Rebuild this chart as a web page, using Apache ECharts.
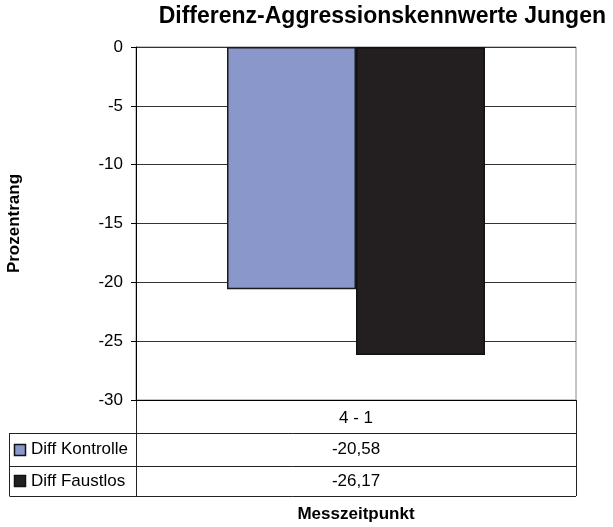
<!DOCTYPE html>
<html>
<head>
<meta charset="utf-8">
<script src="https://cdn.jsdelivr.net/npm/echarts@6/dist/echarts.min.js"></script>
<style>
html,body{margin:0;padding:0;background:#fff;}
#chart{width:613px;height:527px;}
</style>
</head>
<body>
<div id="chart"></div>
<script>
const categories = ['4 - 1'];
const seriesNames = ['Diff Kontrolle', 'Diff Faustlos'];
const kontrolle = [-20.58];
const faustlos = [-26.17];
const seriesColors = ['#8A97CB', '#231F20'];
const yTicks = [0, -5, -10, -15, -20, -25, -30];

const FONT = 'Liberation Sans, Arial, sans-serif';
const chart = echarts.init(document.getElementById('chart'), null, {renderer: 'canvas'});

const gridLeft = 136, gridRight = 37, gridTop = 47, gridBottom = 127;

const option = {
  animation: false,
  backgroundColor: '#fff',
  textStyle: {fontFamily: FONT},
  title: {
    text: 'Differenz-Aggressionskennwerte Jungen',
    right: 2, top: 0,
    textStyle: {fontFamily: FONT, fontSize: 23, fontWeight: 'bold', color: '#000'}
  },
  grid: {left: gridLeft, right: gridRight, top: gridTop, bottom: gridBottom,
         containLabel: false, outerBoundsMode: 'none',
         show: true, borderColor: '#888', borderWidth: 1, backgroundColor: 'transparent'},
  xAxis: {
    type: 'category', data: categories, position: 'bottom',
    axisLine: {onZero: false, lineStyle: {color: '#000', width: 1}},
    axisTick: {show: false},
    axisLabel: {color: '#000', fontSize: 17, fontFamily: FONT, margin: 10},
    name: 'Messzeitpunkt', nameLocation: 'middle', nameGap: 106,
    nameTextStyle: {fontFamily: FONT, fontSize: 17, fontWeight: 'bold', color: '#000'}
  },
  yAxis: {
    type: 'value', min: -30, max: 0, interval: 5,
    axisLine: {show: true, lineStyle: {color: '#000', width: 1}},
    axisTick: {show: true, length: 5, lineStyle: {color: '#000'}},
    axisLabel: {color: '#000', fontSize: 17, fontFamily: FONT, margin: 13,
      formatter: v => yTicks.indexOf(v) >= 0 ? String(v) : ''},
    splitLine: {show: true, lineStyle: {color: '#333', width: 1}},
    name: 'Prozentrang', nameLocation: 'middle', nameGap: 113,
    nameTextStyle: {fontFamily: FONT, fontSize: 17, fontWeight: 'bold', color: '#000'}
  },
  series: [
    {name: seriesNames[0], type: 'bar', data: kontrolle, barWidth: 129, barGap: '0%',
     itemStyle: {color: seriesColors[0], borderColor: '#1a1a1a', borderWidth: 1.5}},
    {name: seriesNames[1], type: 'bar', data: faustlos, barWidth: 129, barGap: '0%',
     itemStyle: {color: seriesColors[1], borderColor: '#111', borderWidth: 1.5}}
  ]
};
chart.setOption(option);

// Data table below the chart
const W = 613, H = 527;
const xL = gridLeft, xR = W - gridRight, yAx = H - gridBottom;
const tableLeft = 9.5;
const rows = [yAx + 33, yAx + 66, yAx + 96];
const lineStyle = {stroke: '#222', lineWidth: 1};
const els = [];
function hline(x1, x2, y) { els.push({type: 'line', shape: {x1, y1: y, x2, y2: y}, style: lineStyle, silent: true}); }
function vline(x, y1, y2) { els.push({type: 'line', shape: {x1: x, y1, x2: x, y2}, style: lineStyle, silent: true}); }
rows.forEach(y => hline(tableLeft, xR, Math.round(y) + 0.5));
vline(tableLeft, rows[0], rows[2]);
vline(xL + 0.5, yAx, rows[2]);
vline(xR + 0.5, yAx, rows[2]);
const cx = chart.convertToPixel({xAxisIndex: 0}, categories[0]);
const seriesData = [kontrolle, faustlos];
seriesNames.forEach((nm, i) => {
  const yc = (rows[i] + rows[i + 1]) / 2;
  els.push({type: 'rect', shape: {x: 14.5, y: Math.round(yc - 6) + 0.5, width: 11, height: 11},
    style: {fill: seriesColors[i], stroke: '#111', lineWidth: 1.5}, silent: true});
  els.push({type: 'text', x: 31, y: yc, style: {text: nm, font: '17px ' + FONT, fill: '#000',
    textVerticalAlign: 'middle', verticalAlign: 'middle'}, silent: true});
  els.push({type: 'text', x: cx, y: yc, style: {text: seriesData[i][0].toFixed(2).replace('.', ','),
    font: '17px ' + FONT, fill: '#000', align: 'center', textAlign: 'center', verticalAlign: 'middle', textVerticalAlign: 'middle'}, silent: true});
});
chart.setOption({graphic: {elements: els}});
</script>
</body>
</html>
